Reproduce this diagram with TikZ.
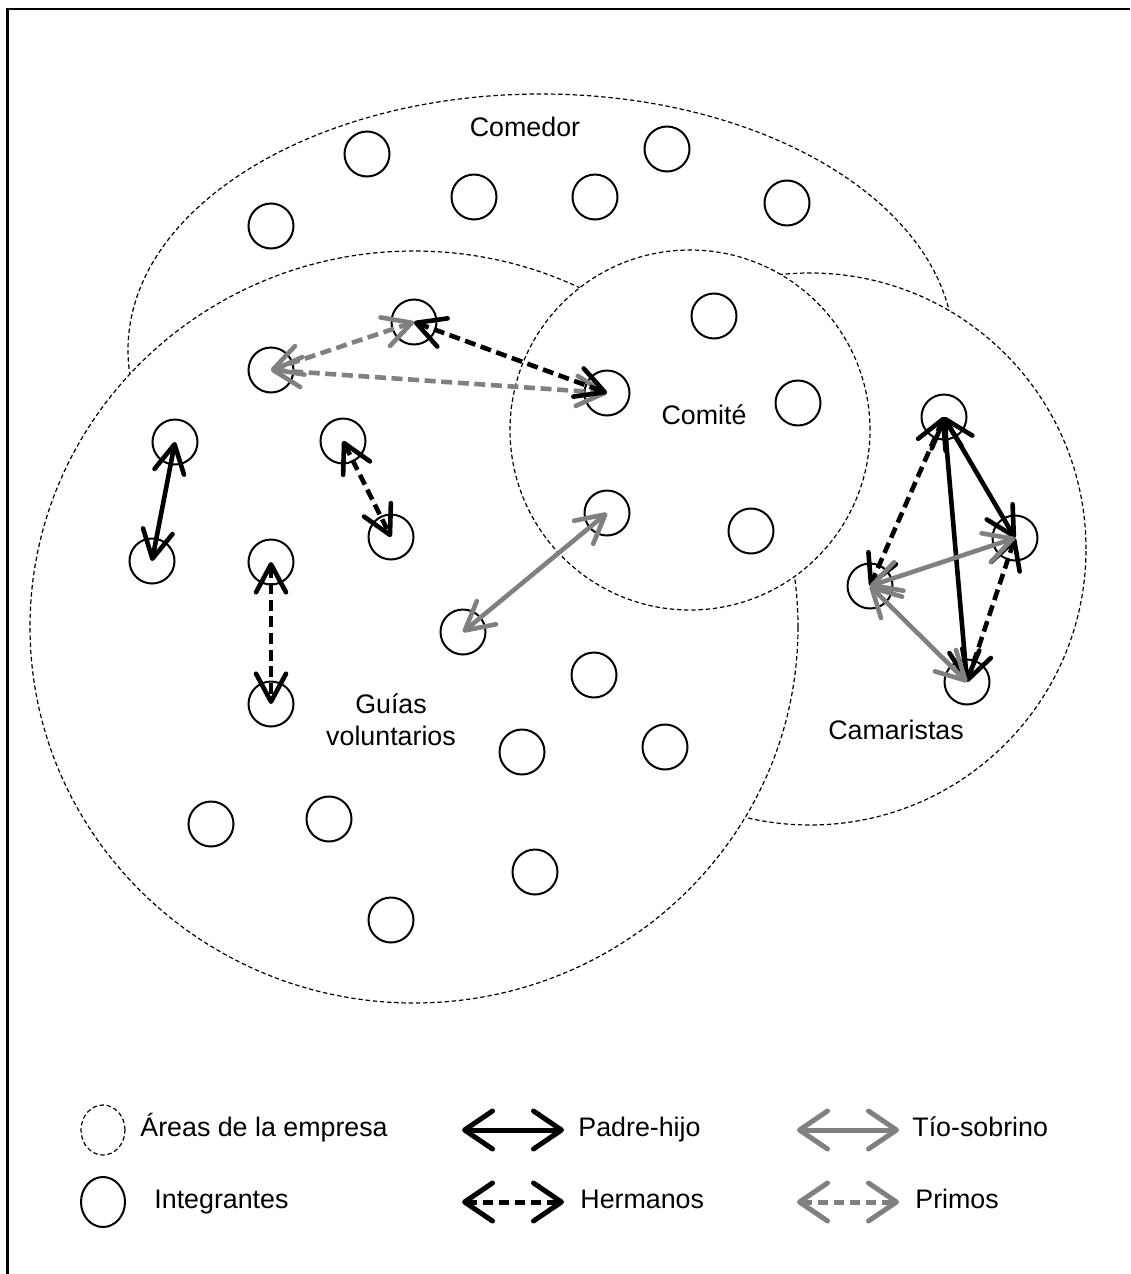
\documentclass[tikz,border=0pt]{standalone}
\usepackage{fontspec}
\setmainfont{Liberation Sans}
\usetikzlibrary{arrows.meta,shapes.geometric}
\definecolor{kin}{gray}{0.5}

\begin{document}
\begin{tikzpicture}[x=0.5pt,y=-0.5pt,font=\fontsize{13.4}{16}\selectfont,
>={Straight Barb[length=14pt,width=15pt,round]},
area/.style={ellipse,draw,fill=white,line width=0.6pt,dash pattern=on 2.2pt off 1.4pt,inner sep=0pt},
member/.style={circle,draw,line width=1pt,inner sep=0pt,minimum size=22.5pt},
link/.style={<->,line width=2.3pt},
padre/.style={link,black},
hermano/.style={link,black,dash pattern=on 5.5pt off 2.8pt},
tio/.style={link,kin},
primo/.style={link,kin,dash pattern=on 5.5pt off 2.8pt},
keyline/.style={line width=2.5pt,{Straight Barb[length=14pt,width=19pt,round]}-{Straight Barb[length=14pt,width=19pt,round]}},
tag/.style={inner sep=0pt,align=center},
keytxt/.style={anchor=west,inner sep=0pt,text height=9.6pt,text depth=2.8pt}]
\useasboundingbox (0,0) rectangle (1130,1274);
\draw[line width=1.2pt] (7.5,1274) -- (7.5,9) -- (1130,9);
\node[area,minimum width=413pt,minimum height=256pt] (comedor) at (541,350) {};
\node[area,minimum width=276pt,minimum height=276pt] (camaristas) at (810,549) {};
\node[area,minimum width=384pt,minimum height=376pt] (guias) at (414,627) {};
\node[area,minimum width=180pt,minimum height=180pt] (comite) at (690,430) {};
\node[tag] (comedortxt) at (525,127) {Comedor};
\node[tag] (comitetxt) at (704,415) {Comité};
\node[tag] (camaristastxt) at (896,730) {Camaristas};
\node[tag] (guiastxt) at (391,720) {Guías\\voluntarios};
\node[member] (c1) at (367,154) {};
\node[member] (c2) at (667,149) {};
\node[member] (c3) at (474,197) {};
\node[member] (c4) at (595,197) {};
\node[member] (c5) at (271,226) {};
\node[member] (c6) at (787,203) {};
\node[member] (g1) at (414,322) {};
\node[member] (g2) at (271,370) {};
\node[member] (g3) at (175,442) {};
\node[member] (g4) at (343,441) {};
\node[member] (g5) at (152,561) {};
\node[member] (g6) at (271,562) {};
\node[member] (g7) at (391,537) {};
\node[member] (g8) at (463,632) {};
\node[member] (g9) at (271,704) {};
\node[member] (g10) at (594,675) {};
\node[member] (g11) at (522,752) {};
\node[member] (g12) at (665,747) {};
\node[member] (g13) at (211,824) {};
\node[member] (g14) at (329,819) {};
\node[member] (g15) at (535,872) {};
\node[member] (g16) at (391,920) {};
\node[member] (k1) at (714,316) {};
\node[member] (k2) at (607,393) {};
\node[member] (k3) at (798,403) {};
\node[member] (k4) at (607,513) {};
\node[member] (k5) at (751,531) {};
\node[member] (m1) at (944,417) {};
\node[member] (m2) at (1015,538) {};
\node[member] (m3) at (870,586) {};
\node[member] (m4) at (967,682) {};
\draw[padre] (g3.center) -- (g5.center);
\draw[hermano] (g4.center) -- (g7.center);
\draw[hermano] (g6.center) -- (g9.center);
\draw[primo] (g1.center) -- (g2.center);
\draw[primo] (g2.center) -- (k2.center);
\draw[hermano] (g1.center) -- (k2.center);
\draw[tio] (g8.center) -- (k4.center);
\draw[hermano] (m1.center) -- (m3.center);
\draw[hermano] (m2.center) -- (m4.center);
\draw[padre] (m1.center) -- (m2.center);
\draw[padre] (m1.center) -- (m4.center);
\draw[tio] (m3.center) -- (m2.center);
\draw[tio] (m3.center) -- (m4.center);
\node[area,minimum width=22pt,minimum height=25pt] (keyarea) at (103,1130) {};
\node[keytxt] (keyareatxt) at (140,1130) {Áreas de la empresa};
\node[member,minimum width=22pt,minimum height=25pt,ellipse] (keymember) at (103,1202) {};
\node[keytxt] (keymembertxt) at (154,1202) {Integrantes};
\coordinate (pa) at (462,1130);
\coordinate (pb) at (564,1130);
\coordinate (ha) at (462,1202);
\coordinate (hb) at (564,1202);
\coordinate (ta) at (797,1130);
\coordinate (tb) at (899,1130);
\coordinate (ra) at (797,1202);
\coordinate (rb) at (899,1202);
\draw[keyline,black] (pa) -- (pb);
\draw[keyline,black,dash pattern=on 5pt off 3pt] (ha) -- (hb);
\draw[keyline,kin] (ta) -- (tb);
\draw[keyline,kin,dash pattern=on 5pt off 3pt] (ra) -- (rb);
\node[keytxt] (padretxt) at (578,1130) {Padre-hijo};
\node[keytxt] (hermanotxt) at (580,1202) {Hermanos};
\node[keytxt] (tiotxt) at (912,1130) {Tío-sobrino};
\node[keytxt] (primotxt) at (915,1202) {Primos};
\end{tikzpicture}
\end{document}
